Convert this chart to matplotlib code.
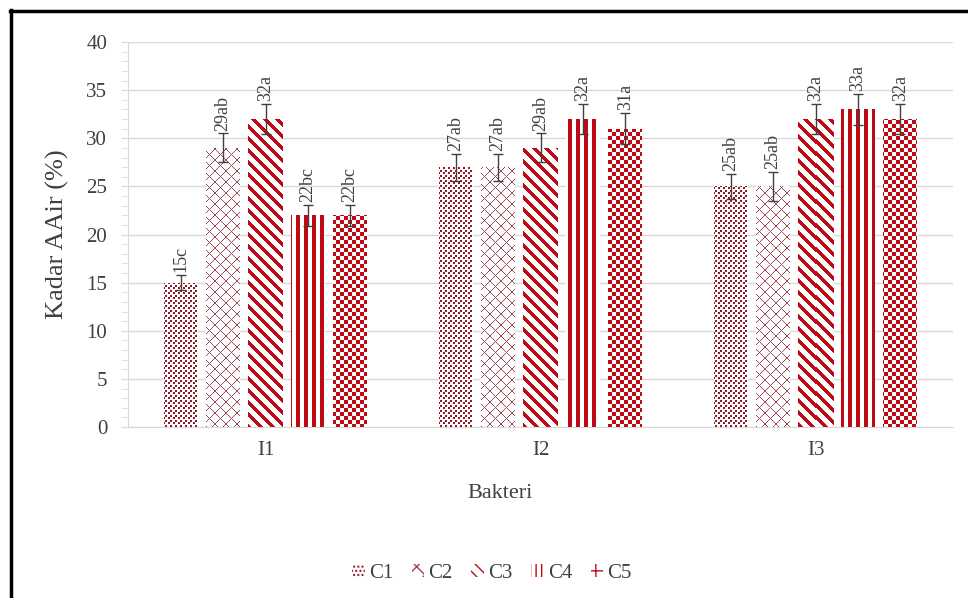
import numpy as np
import matplotlib.pyplot as plt
from matplotlib.colors import to_rgb
from matplotlib.patches import Patch
from matplotlib.lines import Line2D
from matplotlib.ticker import MultipleLocator

plt.rcParams['font.family'] = ['Liberation Serif', 'DejaVu Serif']

# data
groups = ['I1', 'I2', 'I3']
series = ['C1', 'C2', 'C3', 'C4', 'C5']
c1 = [15, 27, 25]
c2 = [29, 27, 25]
c3 = [32, 29, 32]
c4 = [22, 32, 33]
c5 = [22, 31, 32]
c1_err = [0.8, 1.4, 1.3]
c2_err = [1.5, 1.4, 1.5]
c3_err = [1.6, 1.5, 1.6]
c4_err = [1.1, 1.6, 1.6]
c5_err = [1.1, 1.6, 1.6]
c1_lab = ['15c', '27ab', '25ab']
c2_lab = ['29ab', '27ab', '25ab']
c3_lab = ['32a', '29ab', '32a']
c4_lab = ['22bc', '32a', '33a']
c5_lab = ['22bc', '31a', '32a']

vals = [c1, c2, c3, c4, c5]
errs = [c1_err, c2_err, c3_err, c4_err, c5_err]
labs = [c1_lab, c2_lab, c3_lab, c4_lab, c5_lab]

RED = '#BE0A14'
colors = ['#8E1828', '#9C4556', RED, RED, RED]
hatches = ['....', 'xx', '\\\\\\', '|||', '++']
TXT = '#404040'

W, H = 968, 598
fig = plt.figure(figsize=(W / 100, H / 100), dpi=100)
ax = fig.add_axes([128 / W, 1 - 427 / H, (953 - 128) / W, (427 - 42) / H])
ax.set_xlim(-0.5, 2.5)
ax.set_ylim(0, 40)


def pattern(i, X, Y):
    # pixel masks that mimic the Excel fill patterns
    if i == 0:
        return ((X % 5 < 2) & (Y % 5 < 2)) | (((X + 2) % 5 < 2) & ((Y + 3) % 5 < 2))
    if i == 1:
        return ((X + Y) % 11 == 0) | ((X - Y) % 11 == 0)
    if i == 2:
        return (X - Y) % 12 < 5
    if i == 3:
        return X % 8 < 4
    return ((X // 4) + (Y // 4)) % 2 == 0


step = 0.154
width = 0.124
x = np.arange(len(groups))
inv = ax.transData.inverted()
for i, s in enumerate(series):
    xs = x + (i - 2) * step
    bars = ax.bar(xs, vals[i], width, color='white', edgecolor='none', zorder=2)
    rgb = np.array(to_rgb(colors[i]))
    for b in bars:
        (px0, py0), (px1, py1) = ax.transData.transform(
            [(b.get_x(), 0), (b.get_x() + b.get_width(), b.get_height())])
        px0, px1, py0, py1 = round(px0), round(px1), round(py0), round(py1)
        w, h = px1 - px0, py1 - py0
        X, Y = np.meshgrid(px0 + np.arange(w), (H - py1) + np.arange(h))
        img = np.ones((h, w, 3))
        img[pattern(i, X, Y)] = rgb
        (dx0, dy0), (dx1, dy1) = inv.transform([(px0, py0), (px1, py1)])
        ax.imshow(img, extent=(dx0, dx1, dy0, dy1), aspect='auto',
                  interpolation='nearest', zorder=2.5)
    ax.errorbar(xs, vals[i], yerr=errs[i], fmt='none', ecolor=TXT,
                elinewidth=1, capsize=3.5, capthick=1, zorder=4)
    for xx, v, e, t in zip(xs, vals[i], errs[i], labs[i]):
        ax.text(xx, v + e + 0.3, t, rotation=90, ha='center', va='bottom',
                fontsize=13, color=TXT, zorder=5)

ax.set_xlim(-0.5, 2.5)
ax.set_ylim(0, 40)
ax.set_xticks(x)
ax.set_xticklabels(groups)
ax.yaxis.set_major_locator(MultipleLocator(5))
ax.yaxis.set_minor_locator(MultipleLocator(1))
ax.tick_params(axis='x', length=0, labelsize=15, labelcolor=TXT, pad=10)
ax.tick_params(axis='y', which='both', length=5, color='#D9D9D9',
               labelsize=15, labelcolor=TXT, pad=10)
ax.grid(axis='y', color='#D9D9D9', linewidth=1, zorder=0)
ax.set_axisbelow(True)
for sp in ['top', 'right']:
    ax.spines[sp].set_visible(False)
ax.spines['left'].set_color('#D9D9D9')
ax.spines['bottom'].set_color('#D9D9D9')

ax.set_ylabel('Kadar AAir (%)', fontsize=19, color=TXT)
ax.yaxis.set_label_coords(-0.072, 0.5)
fig.text(500 / W, 1 - 493 / H, 'Bakteri', ha='center', va='center',
         fontsize=16, color=TXT)

handles = [Patch(facecolor='white', edgecolor=colors[i], hatch=hatches[i],
                 linewidth=0) for i in range(5)]
fig.legend(handles, series, loc='center', bbox_to_anchor=(492 / W, 1 - 573 / H),
           ncol=5, frameon=False, fontsize=15, handlelength=0.6,
           handleheight=0.6, handletextpad=0.2, columnspacing=0.9,
           labelcolor=TXT)

# black frame on the top and left edges of the screenshot
fig.add_artist(Line2D([10 / W, 1], [1 - 11 / H, 1 - 11 / H], color='black', lw=2.5))
fig.add_artist(Line2D([11 / W, 11 / W], [0, 1 - 10 / H], color='black', lw=2.5))

fig.savefig('out.png', dpi=100)
